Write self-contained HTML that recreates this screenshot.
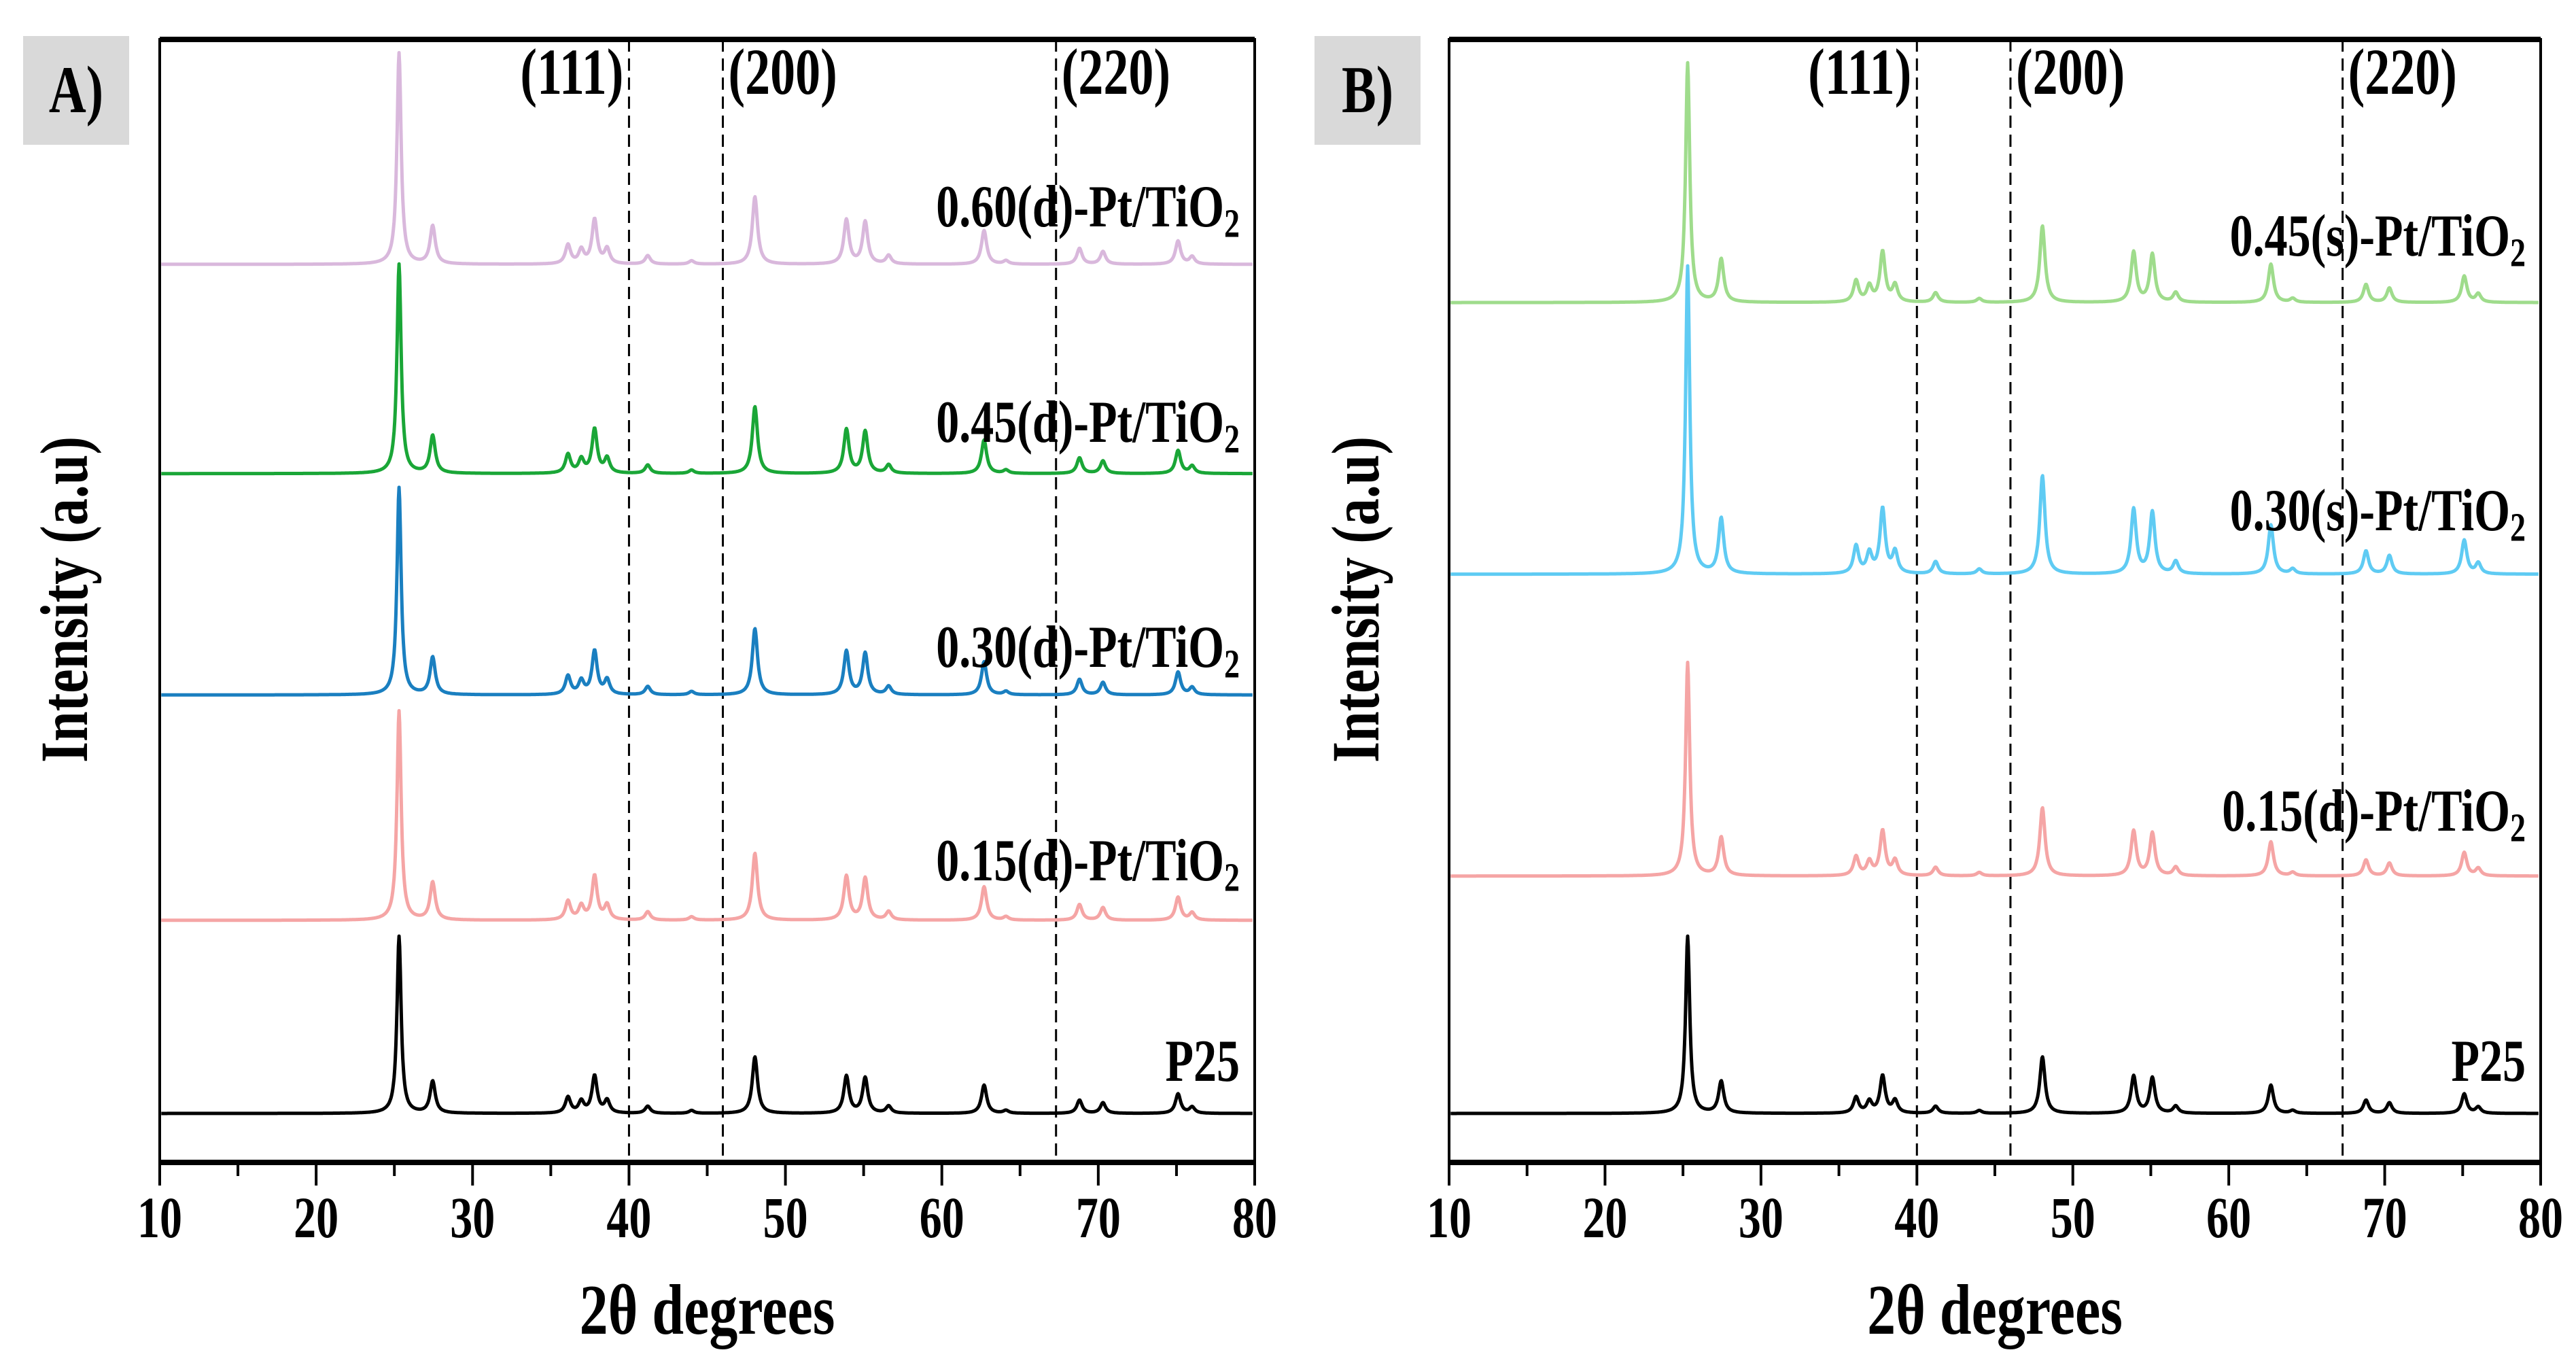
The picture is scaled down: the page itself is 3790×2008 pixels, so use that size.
<!DOCTYPE html>
<html><head><meta charset="utf-8">
<style>
html,body{margin:0;padding:0;background:#fff;}
svg{display:block;font-family:"Liberation Serif",serif;font-weight:bold;}
</style></head>
<body>
<svg id="chart" width="3790" height="2008" viewBox="0 0 3790 2008" xmlns="http://www.w3.org/2000/svg"></svg>
<script>
// ---- data ----
const peakPositions = [25.3, 27.45, 36.1, 36.95, 37.8, 38.6, 41.2, 44.0, 48.05, 53.9, 55.1, 56.6, 62.7, 64.1, 68.8, 70.3, 75.1, 76.0];
const relIntensity  = [1.0, 0.18, 0.09, 0.065, 0.21, 0.07, 0.04, 0.016, 0.32, 0.21, 0.20, 0.04, 0.16, 0.016, 0.075, 0.06, 0.11, 0.035];
const xTicks = [10, 20, 30, 40, 50, 60, 70, 80];
const hklPositions = [40, 46, 67.3];
const hklLabels = ["(111)", "(200)", "(220)"];

const seriesA_names = ["0.60(d)-Pt/TiO", "0.45(d)-Pt/TiO", "0.30(d)-Pt/TiO", "0.15(d)-Pt/TiO", "P25"];
const seriesA_colors = ["#d9b8dc", "#1aa637", "#1a7fc0", "#f5a5a5", "#000000"];
const seriesA_offsets = [4.22, 3.18, 2.08, 0.96, 0.0];
const seriesA_scale = [1.05, 1.04, 1.03, 1.04, 0.88];
const seriesA_labelY = [307, 624, 955, 1269, 1564];

const seriesB_names = ["0.45(s)-Pt/TiO", "0.30(s)-Pt/TiO", "0.15(d)-Pt/TiO", "P25"];
const seriesB_colors = ["#9fdc8c", "#5fcbf3", "#f5a5a5", "#000000"];
const seriesB_offsets = [4.03, 2.68, 1.18, 0.0];
const seriesB_scale = [1.19, 1.53, 1.06, 0.88];
const seriesB_labelY = [350, 754, 1196, 1564];

const svg = document.getElementById('chart');
const NS = "http://www.w3.org/2000/svg";
function mk(tag, attrs, parent){
  const e = document.createElementNS(NS, tag);
  for (const k in attrs) e.setAttribute(k, attrs[k]);
  (parent||svg).appendChild(e);
  return e;
}
// text vertically stretched (reference font looks condensed/tall)
function stretchText(parent, x, y, size, anchor, sy){
  const t = mk('text', {x: 0, y: 0, 'font-size': size, 'text-anchor': anchor, fill: '#000',
    transform: 'translate(' + x + ',' + y + ') scale(1,' + sy + ')'}, parent);
  return t;
}

function panel(cfg){
  const g = mk('g', {});
  
  
  const L = cfg.left, R = cfg.right, T = 58, B = 1710;
  const xs = v => L + (v - 10) / 70 * (R - L);
  const unit = 296;
  const baseY = 1638;
  const ys = v => baseY - v * unit;

  const lb = mk('rect', {x: cfg.boxX, y: 53, width: 156, height: 160, fill: '#d9d9d9'}, g);
  
  
  const lt = stretchText(g, cfg.boxX + 78, 165, 76, 'middle', 1.3);
  lt.textContent = cfg.letter;
  
  

  hklPositions.forEach((p, i) => {
    const dl = mk('line', {x1: xs(p), x2: xs(p), y1: T, y2: B, stroke: '#000', 'stroke-width': 3, 'stroke-dasharray': '18 10'}, g);
    
    
    const anchorRight = i === 0;
    const t = stretchText(g, anchorRight ? xs(p) - 8 : xs(p) + 8, 138, 74, anchorRight ? 'end' : 'start', 1.3);
    t.textContent = hklLabels[i];
    
    
  });

  cfg.names.forEach((nm, si) => {
    let d = '';
    for (let x = 10.1; x <= 79.9; x += 0.04) {
      let v = 0;
      for (let k = 0; k < peakPositions.length; k++) {
        const w = k === 0 ? 0.16 : 0.2;
        const dx = (x - peakPositions[k]) / w;
        v += relIntensity[k] / (1 + dx * dx);
      }
      v = v * cfg.scale[si] + cfg.offsets[si];
      d += (d ? 'L' : 'M') + xs(x).toFixed(1) + ' ' + ys(v).toFixed(1);
    }
    const p = mk('path', {d: d, fill: 'none', stroke: cfg.colors[si], 'stroke-width': 5, 'stroke-linejoin': 'round'}, g);
    
    
    const t = stretchText(g, R - 22, cfg.labelY[si] + 26, 68, 'end', 1.3);
    if (nm === 'P25') { t.textContent = 'P25'; }
    else {
      t.textContent = nm;
      const s = mk('tspan', {'font-size': 46, dy: 12}, t);
      s.textContent = '2';
    }
    
    
  });

  const fr = mk('rect', {x: L, y: T, width: R - L, height: B - T, fill: 'none', stroke: '#000', 'stroke-width': 4}, g);
  
  
  const tl = mk('line', {x1: L, x2: R, y1: T, y2: T, stroke: '#000', 'stroke-width': 8}, g);
  
  
  const bl = mk('line', {x1: L, x2: R, y1: B, y2: B, stroke: '#000', 'stroke-width': 8}, g);
  
  

  xTicks.forEach((v, i) => {
    const tk = mk('line', {x1: xs(v), x2: xs(v), y1: B, y2: B + 34, stroke: '#000', 'stroke-width': 4}, g);
    
    
    if (i < xTicks.length - 1) {
      const mt = mk('line', {x1: xs(v + 5), x2: xs(v + 5), y1: B, y2: B + 20, stroke: '#000', 'stroke-width': 4}, g);
      
      
    }
    const tt = stretchText(g, xs(v), 1820, 66, 'middle', 1.3);
    tt.textContent = v;
    
    
  });

  const xt = stretchText(g, (L + R) / 2, 1962, 84, 'middle', 1.25);
  xt.textContent = '2θ degrees';
  
  
  const yt = mk('text', {x: 0, y: 0, 'font-size': 80, 'text-anchor': 'middle', fill: '#000', transform: 'translate(' + (cfg.ytX) + ',882) rotate(-90) scale(1,1.25)'}, g);
  yt.textContent = 'Intensity (a.u)';
  
  
}

panel({name: 'panel-a', letter: 'A)', left: 235, right: 1846, boxX: 34, ytX: 128,
  names: seriesA_names, colors: seriesA_colors, offsets: seriesA_offsets, scale: seriesA_scale, labelY: seriesA_labelY});
panel({name: 'panel-b', letter: 'B)', left: 2132, right: 3738, boxX: 1934, ytX: 2028,
  names: seriesB_names, colors: seriesB_colors, offsets: seriesB_offsets, scale: seriesB_scale, labelY: seriesB_labelY});
</script>
</body></html>
